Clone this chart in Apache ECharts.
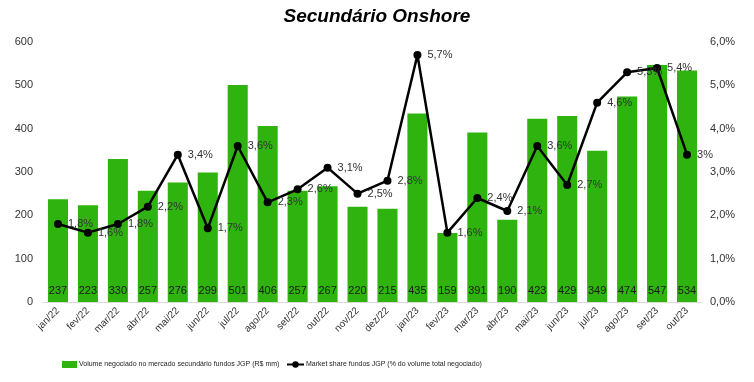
<!DOCTYPE html>
<html><head><meta charset="utf-8">
<script src="https://cdn.jsdelivr.net/npm/echarts@6/dist/echarts.min.js"></script>
<style>html,body{margin:0;padding:0;background:#fff}#c{width:754px;height:382px}</style>
</head><body><div id="c"></div>
<script>
var categories = ['jan/22','fev/22','mar/22','abr/22','mai/22','jun/22','jul/22','ago/22','set/22','out/22','nov/22','dez/22','jan/23','fev/23','mar/23','abr/23','mai/23','jun/23','jul/23','ago/23','set/23','out/23'];
var volume = [237,223,330,257,276,299,501,406,257,267,220,215,435,159,391,190,423,429,349,474,547,534];
var share = [1.8,1.6,1.8,2.2,3.4,1.7,3.6,2.3,2.6,3.1,2.5,2.8,5.7,1.6,2.4,2.1,3.6,2.7,4.6,5.3,5.4,3.4];
var shareLabels = ['1,8%','1,6%','1,8%','2,2%','3,4%','1,7%','3,6%','2,3%','2,6%','3,1%','2,5%','2,8%','5,7%','1,6%','2,4%','2,1%','3,6%','2,7%','4,6%','5,3%','5,4%','3%'];
var leftTicks = [0,100,200,300,400,500,600];
var rightTicks = [0,1,2,3,4,5,6];

var FONT = 'Liberation Sans, Arial, sans-serif';
var chart = echarts.init(document.getElementById('c'), null, {renderer:'canvas'});
chart.setOption({
  animation:false,
  title:{text:'Secundário Onshore', left:'center', top:2,
    textStyle:{fontSize:19, fontWeight:'bold', fontStyle:'italic', color:'#000', fontFamily:FONT}},
  grid:{left:43, right:52, top:42, bottom:80},
  legend:[
    {data:[{name:'Volume negociado no mercado secundário fundos JGP (R$ mm)', icon:'rect'}], left:57, top:356, itemWidth:15, itemHeight:7, itemGap:3,
     textStyle:{fontSize:7, color:'#222', fontFamily:FONT, padding:[0,0,0,-3]}},
    {data:['Market share fundos JGP (% do volume total negociado)'], left:281, top:356, itemWidth:17, itemHeight:8,
     textStyle:{fontSize:7, color:'#222', fontFamily:FONT, padding:[0,0,0,-3]}}
  ],
  xAxis:{type:'category', data:categories,
    axisLine:{lineStyle:{color:'#d9d9d9'}}, axisTick:{show:false},
    axisLabel:{rotate:45, fontSize:10, color:'#333', fontFamily:FONT, interval:0, margin:7}},
  yAxis:[
    {type:'value', min:0, max:600, interval:100, splitLine:{show:false},
     axisLabel:{fontSize:11, color:'#333', fontFamily:FONT, margin:10, formatter:function(v){return leftTicks.indexOf(v)>=0?String(v):'';}}},
    {type:'value', min:0, max:6, interval:1, splitLine:{show:false},
     axisLabel:{fontSize:11, color:'#333', fontFamily:FONT, margin:8, formatter:function(v){return rightTicks.indexOf(v)>=0?v.toFixed(1).replace('.',',')+'%':'';}}}
  ],
  series:[
    {name:'Volume negociado no mercado secundário fundos JGP (R$ mm)', type:'bar', data:volume,
     barCategoryGap:'33%', itemStyle:{color:'#2fb40f'},
     label:{show:true, position:'insideBottom', distance:6, fontSize:11, color:'#1a1a1a', fontFamily:FONT}},
    {name:'Market share fundos JGP (% do volume total negociado)', type:'line', yAxisIndex:1, data:share,
     symbol:'circle', symbolSize:8, lineStyle:{color:'#000', width:2.5}, itemStyle:{color:'#000'},
     label:{show:true, position:'right', distance:6, fontSize:11, color:'#333', fontFamily:FONT,
       formatter:function(p){return shareLabels[p.dataIndex];}}}
  ]
});
</script></body></html>
